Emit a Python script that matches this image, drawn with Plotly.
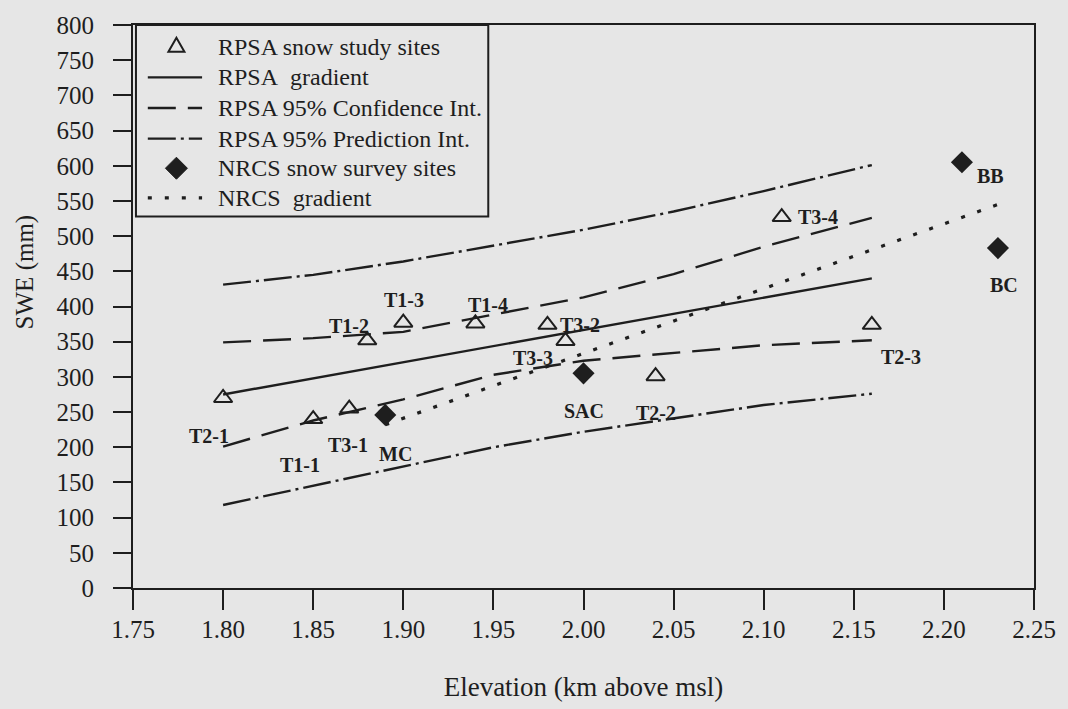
import plotly.graph_objects as go

# RPSA snow study sites: elevation (km) and SWE (mm)
rpsa_sites = ["T2-1", "T1-1", "T3-1", "T1-2", "T1-3", "T1-4", "T3-2", "T3-3", "T2-2", "T3-4", "T2-3"]
rpsa_elev = [1.80, 1.85, 1.87, 1.88, 1.90, 1.94, 1.98, 1.99, 2.04, 2.11, 2.16]
rpsa_swe = [270, 240, 255, 352, 377, 376, 374, 351, 301, 527, 374]

# NRCS snow survey sites
nrcs_sites = ["MC", "SAC", "BB", "BC"]
nrcs_elev = [1.89, 2.00, 2.21, 2.23]
nrcs_swe = [246, 305, 605, 483]

# RPSA regression line and its intervals
grad_elev = [1.80, 2.16]
grad_swe = [275, 440]
band_elev = [1.80, 1.85, 1.90, 1.95, 2.00, 2.05, 2.10, 2.16]
conf_hi = [349, 355, 364, 388, 413, 446, 485, 526]
conf_lo = [201, 238, 268, 303, 323, 334, 345, 352]
pred_hi = [431, 445, 464, 486, 509, 535, 564, 601]
pred_lo = [118, 145, 173, 200, 222, 241, 260, 276]

# NRCS regression line
nrcs_grad_elev = [1.89, 2.23]
nrcs_grad_swe = [232, 545]

# legend entries, top to bottom
legend_labels = [
    "RPSA snow study sites",
    "RPSA\u00a0 gradient",
    "RPSA 95% Confidence Int.",
    "RPSA 95% Prediction Int.",
    "NRCS snow survey sites",
    "NRCS\u00a0 gradient",
]

# label offsets in pixels (dx, dy; dy positive = up)
label_offsets = {
    "T2-1": (-14, -38), "T1-1": (-13, -46), "T3-1": (-1, -36), "T1-2": (-18, 14),
    "T1-3": (1, 23), "T1-4": (13, 18), "T3-2": (33, 0), "T3-3": (-32, -17),
    "T2-2": (0, -37), "T3-4": (36, 0), "T2-3": (29, -32),
    "MC": (10, -39), "SAC": (0, -38), "BB": (29, -14), "BC": (6, -37),
}

INK = "#1e1e1e"
BG = "#e6e6e6"
SERIF = "Liberation Serif, Times New Roman, serif"
LW = 2.4
DASH_CONF = "28px,12px"
DASH_PRED = "28px,5px,3px,5px"
DASH_NRCS = "4px,13px"

W, H = 1068, 709
M_L, M_R, M_T, M_B = 133, 22, 20, 119
PW, PH = W - M_L - M_R, H - M_T - M_B


def px_x(px):
    return (px - M_L) / PW


def px_y(py):
    return (H - M_B - py) / PH


fig = go.Figure()

fig.add_trace(go.Scatter(
    x=rpsa_elev, y=rpsa_swe, mode="markers",
    marker=dict(symbol="triangle-up-open", size=16, color=INK, line=dict(width=2, color=INK)),
))
fig.add_trace(go.Scatter(x=grad_elev, y=grad_swe, mode="lines", line=dict(color=INK, width=LW)))
for series in (conf_hi, conf_lo):
    fig.add_trace(go.Scatter(x=band_elev, y=series, mode="lines",
                             line=dict(color=INK, width=LW, dash=DASH_CONF)))
for series in (pred_hi, pred_lo):
    fig.add_trace(go.Scatter(x=band_elev, y=series, mode="lines",
                             line=dict(color=INK, width=LW, dash=DASH_PRED)))
fig.add_trace(go.Scatter(
    x=nrcs_elev, y=nrcs_swe, mode="markers",
    marker=dict(symbol="diamond", size=17, color=INK),
))
fig.add_trace(go.Scatter(
    x=nrcs_grad_elev, y=nrcs_grad_swe, mode="lines",
    line=dict(color=INK, width=3.2, dash=DASH_NRCS),
))

# site labels
for names, xs, ys in ((rpsa_sites, rpsa_elev, rpsa_swe), (nrcs_sites, nrcs_elev, nrcs_swe)):
    for n, xv, yv in zip(names, xs, ys):
        dx, dy = label_offsets[n]
        fig.add_annotation(
            x=xv, y=yv, text=f"<b>{n}</b>", showarrow=False,
            xshift=dx, yshift=dy, font=dict(family=SERIF, size=20, color=INK),
        )

# legend box
shapes = [dict(type="rect", xref="paper", yref="paper",
               x0=px_x(136), x1=px_x(493), y0=px_y(214), y1=px_y(20),
               line=dict(color=INK, width=2), fillcolor=BG, layer="above")]
row_y = [42, 73, 104, 135, 165, 195]
sym_x0, sym_x1, sym_c, text_x = 148, 203, 177, 217

# legend symbols
shapes.append(dict(type="path", xref="paper", yref="paper", xsizemode="pixel", ysizemode="pixel",
                   xanchor=px_x(sym_c), yanchor=px_y(row_y[0]),
                   path="M-8,-5 L8,-5 L0,9 Z", line=dict(color=INK, width=2), layer="above"))
for row, dash, width in ((1, "solid", LW), (2, DASH_CONF, LW), (3, DASH_PRED, LW), (5, DASH_NRCS, 3.2)):
    shapes.append(dict(type="line", xref="paper", yref="paper",
                       x0=px_x(sym_x0), x1=px_x(sym_x1), y0=px_y(row_y[row]), y1=px_y(row_y[row]),
                       line=dict(color=INK, width=width, dash=dash), layer="above"))
shapes.append(dict(type="path", xref="paper", yref="paper", xsizemode="pixel", ysizemode="pixel",
                   xanchor=px_x(sym_c), yanchor=px_y(row_y[4]),
                   path="M0,-11 L11,0 L0,11 L-11,0 Z", fillcolor=INK,
                   line=dict(color=INK, width=1), layer="above"))

for label, ry in zip(legend_labels, row_y):
    fig.add_annotation(
        xref="paper", yref="paper", x=px_x(text_x), y=px_y(ry), xanchor="left", yanchor="middle",
        text=label, showarrow=False, font=dict(family=SERIF, size=24, color=INK),
    )

# y-axis title
fig.add_annotation(
    xref="paper", yref="paper", x=px_x(23), y=px_y(270), xanchor="center", yanchor="middle",
    text="SWE (mm)", textangle=-90,
    showarrow=False, font=dict(family=SERIF, size=25, color=INK),
)

axis_common = dict(
    showline=True, linewidth=2, linecolor=INK, mirror=True,
    ticks="outside", tickwidth=2, tickcolor=INK,
    showgrid=False, zeroline=False,
    tickfont=dict(family=SERIF, size=25, color=INK),
)

fig.update_layout(
    width=W, height=H,
    margin=dict(l=M_L, r=M_R, t=M_T, b=M_B),
    paper_bgcolor=BG, plot_bgcolor=BG,
    font=dict(family=SERIF, color=INK),
    shapes=shapes,
    showlegend=False,
    xaxis=dict(
        range=[1.75, 2.25], dtick=0.05, tick0=1.75, tickformat=".2f",
        ticklen=20, ticklabelstandoff=-2,
        title=dict(text="Elevation (km above msl)", font=dict(family=SERIF, size=27, color=INK), standoff=35),
        **axis_common,
    ),
    yaxis=dict(
        range=[0, 800], dtick=50, tick0=0, ticklen=18, ticklabelstandoff=14,
        **axis_common,
    ),
)

fig.write_html("out.html")
